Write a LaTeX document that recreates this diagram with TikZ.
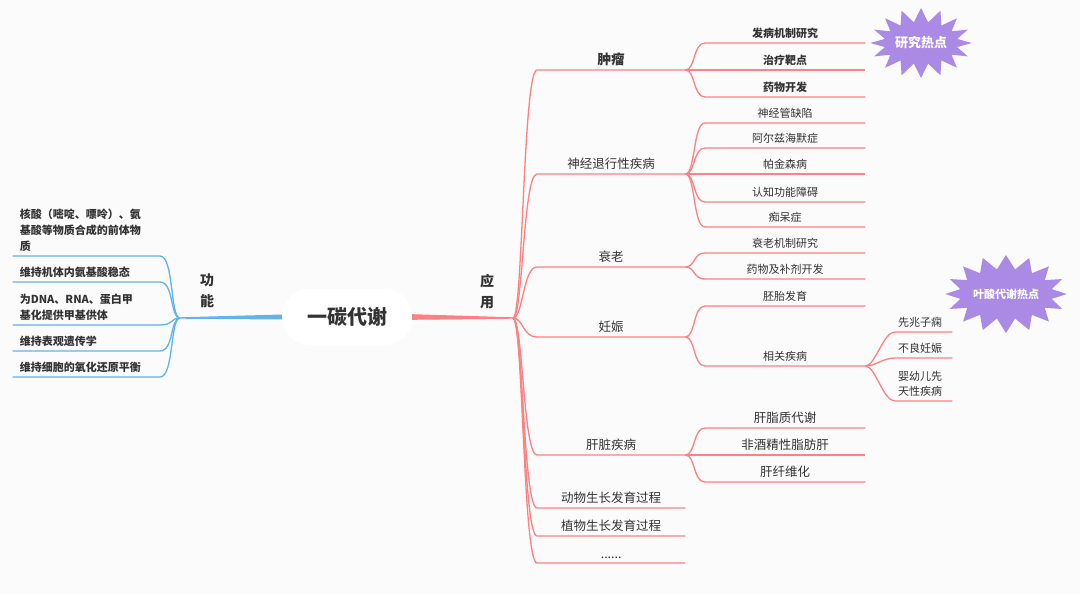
\documentclass[tikz,border=0pt]{standalone}
\usepackage{fontspec}
\setmainfont{Noto Sans CJK SC}
\usetikzlibrary{shapes.symbols}

\definecolor{bgcol}{RGB}{251,251,251}
\definecolor{redline}{RGB}{255,128,128}
\definecolor{blueline}{RGB}{96,180,238}
\definecolor{txtcol}{RGB}{51,51,51}
\definecolor{hotcol}{RGB}{170,138,228}

\tikzset{
    root/.style={fill=white, rounded corners=28pt, minimum width=130pt, minimum height=57pt,
        text=txtcol, font=\fontsize{20}{24}\selectfont\bfseries},
    vlabel/.style={align=center, text=txtcol, font=\fontsize{14}{21}\selectfont\bfseries},
    lvlone/.style={anchor=south west, minimum width=148pt, inner xsep=0pt, inner ysep=4pt,
        text=txtcol, font=\fontsize{12.5}{15}\selectfont},
    leaf/.style={anchor=south west, minimum width=160pt, inner xsep=0pt, inner ysep=4pt,
        text=txtcol, font=\fontsize{11}{13}\selectfont},
    tinyleaf/.style={anchor=south west, text width=51pt, align=left, inner xsep=3pt, inner ysep=4pt,
        text=txtcol, font=\fontsize{11}{15}\selectfont},
    funcleaf/.style={anchor=south east, text width=133pt, align=left, inner xsep=7pt, inner ysep=4pt,
        text=txtcol, font=\fontsize{11}{16}\selectfont\bfseries},
    redbranch/.style={draw=redline, line width=1.3pt},
    bluebranch/.style={draw=blueline, line width=1.3pt},
    hotspot/.style={starburst, starburst points=16, starburst point height=14pt, random starburst=0,
        fill=hotcol, draw=none, text=white, inner sep=0pt}
}

\begin{document}
\begin{tikzpicture}[x=1pt,y=-1pt]
    \fill[bgcol] (0,0) rectangle (1080,594);
    \useasboundingbox (0,0) rectangle (1080,594);

    % centre and the two main arms
    \node[root] (root) at (347,317) {一碳代谢};
    \node[vlabel] (yy) at (487,292) {应\\用};
    \node[vlabel] (gn) at (207,291) {功\\能};
    \coordinate (rf) at (513,318);
    \coordinate (lf) at (180,318);
    \fill[redline] ([yshift=-2.8pt]root.east) -- ([yshift=-0.7pt]rf) -- ([yshift=0.7pt]rf) -- ([yshift=2.8pt]root.east) -- cycle;
    \fill[blueline] ([yshift=-2.5pt]root.west) -- ([yshift=-0.7pt]lf) -- ([yshift=0.7pt]lf) -- ([yshift=2.5pt]root.west) -- cycle;

    % hot spots
    \node[hotspot, minimum width=93pt, minimum height=70pt, font=\fontsize{13}{15}\selectfont\bfseries] (hot1) at (921,43) {研究热点};
    \node[hotspot, minimum width=108pt, minimum height=78pt, font=\fontsize{11}{13}\selectfont\bfseries] (hot2) at (1006,294) {叶酸代谢热点};

    % applications
    \node[lvlone] (zl) at (537,70) {\fontsize{13.5}{16}\selectfont\bfseries 肿瘤};
    \node[lvlone] (sj) at (537,174) {神经退行性疾病};
    \node[lvlone] (sl) at (537,267) {衰老};
    \node[lvlone] (rs) at (537,337) {妊娠};
    \node[lvlone] (gz) at (537,455) {肝脏疾病};
    \node[lvlone] (dw) at (537,508) {动物生长发育过程};
    \node[lvlone] (zw) at (537,536) {植物生长发育过程};
    \node[lvlone] (dd) at (537,563) {......};

    \node[leaf] (zl1) at (705,43) {\bfseries 发病机制研究};
    \node[leaf] (zl2) at (705,70) {\bfseries 治疗靶点};
    \node[leaf] (zl3) at (705,97) {\bfseries 药物开发};

    \node[leaf] (sj1) at (705,123) {神经管缺陷};
    \node[leaf] (sj2) at (705,148) {阿尔兹海默症};
    \node[leaf] (sj3) at (705,174) {帕金森病};
    \node[leaf] (sj4) at (705,202) {认知功能障碍};
    \node[leaf] (sj5) at (705,227) {痴呆症};

    \node[leaf] (sl1) at (705,253) {衰老机制研究};
    \node[leaf] (sl2) at (705,279) {药物及补剂开发};

    \node[leaf] (rs1) at (705,306) {胚胎发育};
    \node[leaf] (rs2) at (705,366) {相关疾病};
    \node[tinyleaf] (rs21) at (895,332) {先兆子痫};
    \node[tinyleaf] (rs22) at (895,358) {不良妊娠};
    \node[tinyleaf] (rs23) at (895,401) {婴幼儿先\\天性疾病};

    \node[leaf, font=\fontsize{12.5}{15}\selectfont] (gz1) at (705,428) {肝脂质代谢};
    \node[leaf, font=\fontsize{12.5}{15}\selectfont] (gz2) at (705,455) {非酒精性脂肪肝};
    \node[leaf, font=\fontsize{12.5}{15}\selectfont] (gz3) at (705,482) {肝纤维化};

    % functions
    \node[funcleaf] (hs) at (160,256) {核酸（嘧啶、嘌呤）、氨\\基酸等物质合成的前体物\\质};
    \node[funcleaf] (wc) at (160,282) {维持机体内氨基酸稳态};
    \node[funcleaf] (wj) at (160,325) {为DNA、RNA、蛋白甲\\基化提供甲基供体};
    \node[funcleaf] (bg) at (160,351) {维持表观遗传学};
    \node[funcleaf] (yh) at (160,377) {维持细胞的氧化还原平衡};

    \begin{scope}[redbranch]
        \draw (rf) .. controls +(10,0) and +(-14,0) .. (zl.south west) -- (zl.south east);
        \draw (rf) .. controls +(10,0) and +(-14,0) .. (sj.south west) -- (sj.south east);
        \draw (rf) .. controls +(10,0) and +(-14,0) .. (sl.south west) -- (sl.south east);
        \draw (rf) .. controls +(10,0) and +(-14,0) .. (rs.south west) -- (rs.south east);
        \draw (rf) .. controls +(10,0) and +(-14,0) .. (gz.south west) -- (gz.south east);
        \draw (rf) .. controls +(10,0) and +(-14,0) .. (dw.south west) -- (dw.south east);
        \draw (rf) .. controls +(10,0) and +(-14,0) .. (zw.south west) -- (zw.south east);
        \draw (rf) .. controls +(10,0) and +(-14,0) .. (dd.south west) -- (dd.south east);

        \draw (zl.south east) .. controls +(10,0) and +(-12,0) .. (zl1.south west) -- (zl1.south east);
        \draw (zl.south east) -- (zl2.south west) -- (zl2.south east);
        \draw (zl.south east) .. controls +(10,0) and +(-12,0) .. (zl3.south west) -- (zl3.south east);

        \draw (sj.south east) .. controls +(10,0) and +(-12,0) .. (sj1.south west) -- (sj1.south east);
        \draw (sj.south east) .. controls +(10,0) and +(-12,0) .. (sj2.south west) -- (sj2.south east);
        \draw (sj.south east) -- (sj3.south west) -- (sj3.south east);
        \draw (sj.south east) .. controls +(10,0) and +(-12,0) .. (sj4.south west) -- (sj4.south east);
        \draw (sj.south east) .. controls +(10,0) and +(-12,0) .. (sj5.south west) -- (sj5.south east);

        \draw (sl.south east) .. controls +(10,0) and +(-12,0) .. (sl1.south west) -- (sl1.south east);
        \draw (sl.south east) .. controls +(10,0) and +(-12,0) .. (sl2.south west) -- (sl2.south east);

        \draw (rs.south east) .. controls +(10,0) and +(-12,0) .. (rs1.south west) -- (rs1.south east);
        \draw (rs.south east) .. controls +(10,0) and +(-12,0) .. (rs2.south west) -- (rs2.south east);
        \draw (rs2.south east) .. controls +(10,0) and +(-12,0) .. (rs21.south west) -- (rs21.south east);
        \draw (rs2.south east) .. controls +(10,0) and +(-12,0) .. (rs22.south west) -- (rs22.south east);
        \draw (rs2.south east) .. controls +(10,0) and +(-12,0) .. (rs23.south west) -- (rs23.south east);

        \draw (gz.south east) .. controls +(10,0) and +(-12,0) .. (gz1.south west) -- (gz1.south east);
        \draw (gz.south east) -- (gz2.south west) -- (gz2.south east);
        \draw (gz.south east) .. controls +(10,0) and +(-12,0) .. (gz3.south west) -- (gz3.south east);
    \end{scope}

    \begin{scope}[bluebranch]
        \draw (lf) .. controls +(-10,0) and +(14,0) .. (hs.south east) -- (hs.south west);
        \draw (lf) .. controls +(-10,0) and +(14,0) .. (wc.south east) -- (wc.south west);
        \draw (lf) .. controls +(-10,0) and +(14,0) .. (wj.south east) -- (wj.south west);
        \draw (lf) .. controls +(-10,0) and +(14,0) .. (bg.south east) -- (bg.south west);
        \draw (lf) .. controls +(-10,0) and +(14,0) .. (yh.south east) -- (yh.south west);
    \end{scope}
\end{tikzpicture}
\end{document}
